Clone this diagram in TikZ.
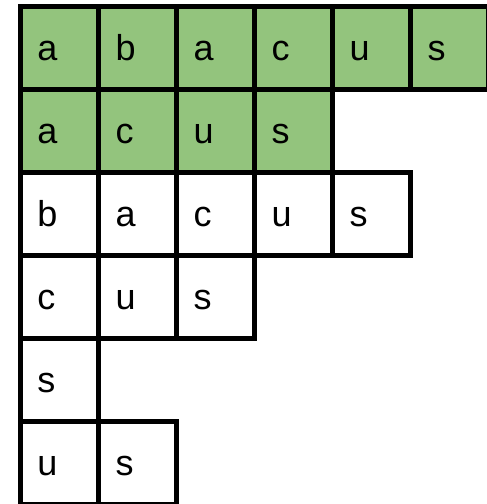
\documentclass[tikz,border=0pt]{standalone}
\usepackage{fontspec}
\setmainfont{Liberation Sans}
\definecolor{cellgreen}{HTML}{93C47D}
\begin{document}
\begin{tikzpicture}[x=1pt,y=-1pt,
  cell/.style={draw=black, line width=5pt, rectangle, minimum width=78pt, minimum height=83pt,
    inner xsep=17.5pt, inner ysep=0pt, text width=43pt, align=left,
    text height=26pt, text depth=0pt, font=\fontsize{36}{36}\selectfont, anchor=north west},
  hl/.style={cell, fill=cellgreen}]
\useasboundingbox (0,0) rectangle (487,504);
% row 0
\node[hl] (r0c0) at (17.5,3.5) {a};
\node[hl] (r0c1) at (95.5,3.5) {b};
\node[hl] (r0c2) at (173.5,3.5) {a};
\node[hl] (r0c3) at (251.5,3.5) {c};
\node[hl] (r0c4) at (329.5,3.5) {u};
\node[hl] (r0c5) at (407.5,3.5) {s};
% row 1
\node[hl] (r1c0) at (17.5,86.5) {a};
\node[hl] (r1c1) at (95.5,86.5) {c};
\node[hl] (r1c2) at (173.5,86.5) {u};
\node[hl] (r1c3) at (251.5,86.5) {s};
% row 2
\node[cell] (r2c0) at (17.5,169.5) {b};
\node[cell] (r2c1) at (95.5,169.5) {a};
\node[cell] (r2c2) at (173.5,169.5) {c};
\node[cell] (r2c3) at (251.5,169.5) {u};
\node[cell] (r2c4) at (329.5,169.5) {s};
% row 3
\node[cell] (r3c0) at (17.5,252.5) {c};
\node[cell] (r3c1) at (95.5,252.5) {u};
\node[cell] (r3c2) at (173.5,252.5) {s};
% row 4
\node[cell] (r4c0) at (17.5,335.5) {s};
% row 5
\node[cell] (r5c0) at (17.5,418.5) {u};
\node[cell] (r5c1) at (95.5,418.5) {s};
\end{tikzpicture}
\end{document}
